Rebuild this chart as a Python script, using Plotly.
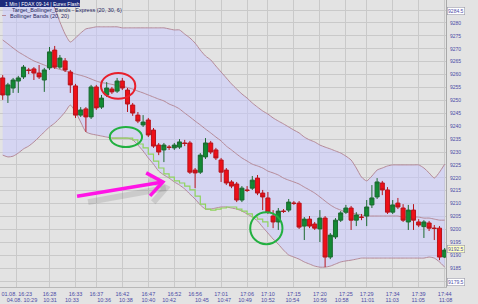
import math
import plotly.graph_objects as go

# ---------------- data ----------------
candle_idx = list(range(86))

open_ = [9258.7, 9252.1, 9254.8, 9257.5, 9259.1, 9261.8, 9262.2, 9260.6, 9257.9, 9262.6,
         9269.5, 9262.9, 9265.3, 9261.0, 9255.6, 9244.3, 9246.7, 9243.6, 9255.2, 9247.4,
         9252.1, 9254.4, 9253.6, 9257.5, 9254.0, 9248.2, 9244.3, 9240.5, 9242.4, 9238.5,
         9232.7, 9230.8, 9231.9, 9231.6, 9231.9, 9233.5, 9233.5, 9223.0, 9222.2, 9228.1,
         9233.5, 9230.8, 9226.9, 9223.0, 9218.4, 9217.6, 9211.4, 9215.3, 9216.0, 9219.9,
         9214.1, 9212.2, 9205.2, 9202.9, 9207.1, 9207.5, 9210.2, 9210.2, 9201.3, 9204.0,
         9202.1, 9200.2, 9204.4, 9189.3, 9197.1, 9203.6, 9206.7, 9208.3, 9203.6, 9204.8,
         9205.2, 9209.5, 9212.6, 9218.0, 9215.3, 9206.7, 9210.2, 9208.3, 9202.9, 9207.5,
         9202.9, 9201.1, 9202.5, 9200.5, 9200.5, 9189.3]
high = [9259.8, 9256.8, 9258.7, 9259.5, 9263.7, 9262.6, 9262.9, 9263.7, 9262.6, 9270.7,
        9271.1, 9267.6, 9266.4, 9261.8, 9256.4, 9247.4, 9247.4, 9256.0, 9256.0, 9252.1,
        9257.1, 9255.2, 9258.7, 9258.7, 9254.8, 9249.0, 9245.5, 9244.3, 9243.2, 9239.3,
        9233.5, 9233.5, 9232.7, 9233.5, 9235.0, 9234.7, 9234.3, 9223.8, 9229.6, 9235.4,
        9234.3, 9231.6, 9227.7, 9223.8, 9219.1, 9218.4, 9216.8, 9216.8, 9220.7, 9221.1,
        9215.3, 9214.5, 9207.5, 9208.3, 9207.9, 9211.8, 9211.0, 9211.0, 9204.8, 9205.2,
        9202.9, 9207.5, 9205.2, 9198.6, 9204.4, 9207.1, 9209.5, 9209.1, 9206.7, 9206.0,
        9211.4, 9217.2, 9219.9, 9218.8, 9216.4, 9211.4, 9212.2, 9209.8, 9209.5, 9209.8,
        9204.0, 9203.6, 9203.3, 9201.7, 9201.3, 9192.8]
low = [9250.2, 9249.0, 9252.9, 9252.9, 9258.3, 9260.2, 9257.9, 9258.3, 9253.3, 9261.8,
       9262.2, 9262.2, 9261.0, 9252.9, 9243.2, 9243.6, 9237.8, 9242.8, 9246.3, 9246.7,
       9251.3, 9252.5, 9252.9, 9254.0, 9245.5, 9244.0, 9241.2, 9239.7, 9235.8, 9231.6,
       9228.8, 9226.1, 9230.8, 9230.8, 9231.2, 9232.3, 9221.5, 9216.0, 9221.5, 9227.3,
       9229.2, 9226.9, 9218.4, 9217.2, 9216.0, 9210.6, 9210.6, 9214.5, 9215.3, 9213.3,
       9207.5, 9206.0, 9200.5, 9199.8, 9206.4, 9206.7, 9209.5, 9200.2, 9195.9, 9200.5,
       9199.8, 9195.1, 9185.4, 9188.5, 9196.3, 9202.9, 9206.0, 9199.8, 9201.3, 9203.6,
       9201.3, 9208.3, 9211.8, 9213.3, 9206.0, 9206.0, 9207.9, 9202.9, 9199.8, 9199.8,
       9200.9, 9196.7, 9199.4, 9195.9, 9188.1, 9188.9]
close = [9252.1, 9256.0, 9257.9, 9258.7, 9262.9, 9261.6, 9260.6, 9259.1, 9261.8, 9268.8,
         9262.9, 9266.4, 9261.8, 9256.0, 9244.3, 9246.3, 9243.6, 9255.2, 9247.1, 9250.9,
         9254.8, 9253.3, 9257.5, 9254.8, 9248.6, 9245.1, 9242.0, 9241.6, 9236.6, 9232.3,
         9230.0, 9232.7, 9231.8, 9232.7, 9233.9, 9233.3, 9222.2, 9221.9, 9228.8, 9233.5,
         9230.0, 9227.7, 9222.2, 9218.0, 9216.8, 9211.4, 9216.0, 9215.1, 9219.1, 9214.1,
         9212.6, 9206.7, 9202.9, 9207.1, 9207.0, 9210.6, 9210.1, 9200.9, 9204.0, 9201.3,
         9200.5, 9204.4, 9189.3, 9197.8, 9203.6, 9206.4, 9208.3, 9203.6, 9205.6, 9204.7,
         9208.7, 9212.2, 9218.4, 9215.3, 9206.7, 9209.5, 9208.7, 9203.6, 9207.5, 9203.6,
         9201.7, 9202.9, 9200.5, 9200.4, 9189.3, 9192.0]

bb_upper = [9294.7, 9294.7, 9294.3, 9294.0, 9293.6, 9293.2, 9292.4, 9291.6, 9290.9, 9289.3,
            9285.8, 9280.4, 9275.7, 9272.6, 9274.2, 9276.1, 9277.7, 9278.1, 9278.5, 9278.5,
            9278.5, 9278.5, 9278.5, 9278.1, 9278.1, 9278.1, 9278.1, 9278.1, 9278.1, 9278.1,
            9278.1, 9278.1, 9277.7, 9277.3, 9277.3, 9275.7, 9274.2, 9272.2, 9269.5, 9267.2,
            9265.7, 9263.3, 9261.0, 9258.7, 9256.4, 9254.4, 9252.5, 9250.9, 9249.0, 9247.4,
            9245.9, 9244.7, 9243.2, 9242.0, 9240.9, 9239.7, 9238.5, 9237.4, 9235.8, 9234.7,
            9233.9, 9232.7, 9231.9, 9231.2, 9230.4, 9229.6, 9228.4, 9226.9, 9223.8, 9220.3,
            9218.8, 9220.7, 9223.0, 9223.8, 9224.6, 9225.0, 9225.0, 9225.0, 9225.0, 9225.0,
            9225.0, 9223.8, 9221.9, 9219.9, 9222.2, 9225.3]
bb_middle = [9273.4, 9271.9, 9270.3, 9268.8, 9267.6, 9266.4, 9265.3, 9264.5, 9263.7, 9262.9,
             9262.6, 9262.0, 9261.4, 9261.0, 9260.2, 9259.7, 9259.1, 9258.3, 9257.5, 9256.9,
             9256.6, 9256.2, 9255.8, 9255.4, 9255.0, 9254.4, 9253.6, 9252.9, 9252.1, 9251.3,
             9250.5, 9249.8, 9248.6, 9247.8, 9246.7, 9245.1, 9243.6, 9242.0, 9240.5, 9238.9,
             9237.4, 9235.8, 9234.3, 9232.3, 9230.8, 9229.2, 9227.7, 9226.5, 9225.3, 9224.6,
             9223.8, 9222.6, 9221.9, 9221.1, 9219.9, 9219.1, 9218.4, 9217.6, 9216.4, 9215.3,
             9214.1, 9212.6, 9211.0, 9209.5, 9208.3, 9207.5, 9206.7, 9206.4, 9206.0, 9205.6,
             9205.2, 9205.2, 9205.2, 9205.2, 9205.2, 9205.2, 9205.2, 9204.8, 9204.8, 9204.8,
             9204.8, 9204.4, 9204.4, 9204.0, 9203.6, 9203.6]
bb_lower = [9228.8, 9228.1, 9228.4, 9229.6, 9231.2, 9232.3, 9233.9, 9235.8, 9237.8, 9239.7,
            9241.2, 9243.2, 9245.5, 9248.2, 9245.5, 9241.6, 9237.8, 9237.0, 9236.6, 9236.2,
            9235.8, 9235.4, 9235.4, 9235.4, 9235.4, 9234.7, 9232.7, 9230.4, 9227.7, 9225.3,
            9222.6, 9221.1, 9219.9, 9218.4, 9217.2, 9215.7, 9213.7, 9211.8, 9209.5, 9207.9,
            9207.9, 9208.3, 9208.7, 9208.7, 9208.3, 9207.9, 9207.1, 9206.0, 9204.8, 9203.3,
            9200.9, 9198.6, 9196.3, 9194.3, 9192.0, 9190.1, 9189.3, 9188.5, 9187.4, 9186.6,
            9185.8, 9185.4, 9185.4, 9185.8, 9186.6, 9187.4, 9187.8, 9188.1, 9188.5, 9188.9,
            9188.9, 9188.9, 9188.9, 9188.9, 9188.9, 9188.9, 9188.9, 9188.9, 9188.9, 9188.9,
            9188.9, 9188.9, 9189.3, 9188.9, 9187.4, 9185.4]

express_idx = [21, 22, 23, 24, 25, 26, 27, 28, 29, 30, 31, 32, 33, 34, 35, 36,
               37, 38, 39, 40, 41, 42, 43, 44, 45, 46, 47, 48, 49, 50, 51]
express_val = [9235.4, 9235.4, 9235.4, 9235.4, 9234.7, 9233.1, 9231.6, 9229.2, 9226.5,
               9223.8, 9221.5, 9220.3, 9218.8, 9218.0, 9216.8, 9215.3, 9212.9, 9209.8,
               9207.9, 9207.5, 9207.9, 9208.3, 9208.7, 9208.7, 9207.9, 9207.1, 9206.0,
               9204.8, 9204.0, 9202.9, 9200.9]

top_tick_pos = [2.7, 9, 14, 18, 23, 28, 33, 37, 42, 47, 51, 56, 61, 66, 70, 75, 80, 85]
top_tick_text = ["01.08. 16:23", "16:28", "16:33", "16:37", "16:42", "16:47", "16:52",
                 "16:56", "17:01", "17:06", "17:10", "17:15", "17:20", "17:25", "17:29",
                 "17:34", "17:39", "17:44"]
bottom_tick_pos = [3.7, 9.1, 13.3, 19.5, 23.7, 28, 32, 38.3, 42.6, 46.6, 51, 55.7, 61,
                   65.2, 70.2, 74.9, 79.9, 85.2]
bottom_tick_text = ["04.08. 10:29", "10:31", "10:33", "10:36", "10:38", "10:40", "10:42",
                    "10:45", "10:47", "10:49", "10:52", "10:54", "10:56", "10:58", "11:01",
                    "11:03", "11:05", "11:08"]
grid_prices = [9180, 9185, 9190, 9195, 9200, 9205, 9210, 9215, 9220, 9225, 9230, 9235,
               9240, 9245, 9250, 9255, 9260, 9265, 9270, 9275, 9280, 9285]
price_tick_text = ["", "9185", "9190", "9195", "9200", "9205", "9210", "9215", "9220",
                   "9225", "9230", "9235", "9240", "9245", "9250", "9255", "9260", "9265",
                   "9270", "9275", "9280", ""]

badge_values = [9284.5, 9192.5, 9179.5]
badge_labels = ["9284.5", "9192.5", "9179.5"]

# highlight ellipses: (x centre, y centre, x half-width, y half-height)
red_circle = (22.2, 9255.6, 3.3, 5.0)
green_circles = [(23.7, 9235.8, 3.1, 3.9), (50.7, 9200.5, 3.1, 6.2)]
arrow_tail = (14.3, 9212.9)
arrow_head = (30.8, 9218.4)

# ---------------- style ----------------
X_RANGE = [-0.52, 85.25]
Y_RANGE = [9177.7, 9288.9]
BG = "#e3e3e3"
GRID = "#c9c9c9"
BAND_LINE = "#b58a98"
LABEL = "#4b4ba6"
FONT = "Liberation Sans, Arial, sans-serif"
W, H = 478, 304
M = dict(l=0, r=32, t=0, b=17)
PX_X = (W - M["l"] - M["r"]) / (X_RANGE[1] - X_RANGE[0])
PX_Y = (H - M["t"] - M["b"]) / (Y_RANGE[1] - Y_RANGE[0])

fig = go.Figure()

fig.add_trace(go.Scatter(x=candle_idx, y=bb_upper, mode="lines",
                         line=dict(color=BAND_LINE, width=1, shape="spline", smoothing=0.6),
                         hoverinfo="skip", showlegend=False))
fig.add_trace(go.Scatter(x=candle_idx, y=bb_lower, mode="lines",
                         line=dict(color=BAND_LINE, width=1, shape="spline", smoothing=0.6),
                         fill="tonexty", fillcolor="rgba(200,200,255,0.52)",
                         hoverinfo="skip", showlegend=False))
fig.add_trace(go.Scatter(x=candle_idx, y=bb_middle, mode="lines",
                         line=dict(color=BAND_LINE, width=1, shape="spline", smoothing=0.6),
                         hoverinfo="skip", showlegend=False))
fig.add_trace(go.Scatter(x=express_idx, y=express_val, mode="lines",
                         line=dict(color="#8fd45e", width=1.2, shape="hv"),
                         hoverinfo="skip", showlegend=False))


def arrow_pts(tail, head, length_px, angle_deg):
    dx = (head[0] - tail[0]) * PX_X
    dy = (head[1] - tail[1]) * PX_Y
    n = math.hypot(dx, dy)
    bx, by = -dx / n, -dy / n
    pts = []
    for s in (1, -1):
        a = math.radians(angle_deg) * s
        rx = bx * math.cos(a) - by * math.sin(a)
        ry = bx * math.sin(a) + by * math.cos(a)
        pts.append((head[0] + rx * length_px / PX_X, head[1] + ry * length_px / PX_Y))
    return pts


def add_arrow(tail, head, color, width):
    w1, w2 = arrow_pts(tail, head, 19, 38)
    fig.add_trace(go.Scatter(x=[tail[0], head[0], None, w1[0], head[0], w2[0]],
                             y=[tail[1], head[1], None, w1[1], head[1], w2[1]],
                             mode="lines", line=dict(color=color, width=width),
                             hoverinfo="skip", showlegend=False))


shadow_dx, shadow_dy = 3 / PX_X, -6 / PX_Y
add_arrow((arrow_tail[0] + 8 / PX_X + shadow_dx, arrow_tail[1] + shadow_dy),
          (arrow_head[0] + shadow_dx, arrow_head[1] + shadow_dy), "rgba(80,80,80,0.16)", 6)
add_arrow(arrow_tail, arrow_head, "#ff14e6", 3.5)

# candles on an overlaying axis pair so they are painted above the band fill
fig.add_trace(go.Candlestick(
    x=candle_idx, open=open_, high=high, low=low, close=close, xaxis="x3", yaxis="y2",
    increasing=dict(fillcolor="#128a34", line=dict(color="#1c6a30", width=1)),
    decreasing=dict(fillcolor="#ee0f18", line=dict(color="#b8141c", width=1)),
    whiskerwidth=0, hoverinfo="skip", showlegend=False))

# invisible trace to carry the second time axis
fig.add_trace(go.Scatter(x=[candle_idx[0]], y=[close[0]], xaxis="x2", mode="markers",
                         marker=dict(opacity=0), hoverinfo="skip", showlegend=False))

shapes = []
cx, cy, rx, ry = red_circle
shapes.append(dict(type="circle", xref="x", yref="y", x0=cx - rx, x1=cx + rx, y0=cy - ry,
                   y1=cy + ry, line=dict(color="#e8202c", width=2)))
for cx, cy, rx, ry in green_circles:
    shapes.append(dict(type="circle", xref="x", yref="y", x0=cx - rx, x1=cx + rx,
                       y0=cy - ry, y1=cy + ry, line=dict(color="#22b040", width=2)))
# header tab
plot_w = W - M["l"] - M["r"]
plot_h = H - M["t"] - M["b"]
shapes.append(dict(type="rect", xref="paper", yref="paper", x0=0, x1=80 / plot_w,
                   y0=1 - 7 / plot_h, y1=1, fillcolor="#1d2b7c", line=dict(width=0),
                   layer="above"))
shapes.append(dict(type="line", xref="paper", yref="paper", x0=2 / plot_w, x1=6 / plot_w,
                   y0=1 - 15.5 / plot_h, y1=1 - 15.5 / plot_h,
                   line=dict(color=BAND_LINE, width=1)))

annotations = [
    dict(xref="paper", yref="paper", x=3 / plot_w, y=1 - 3.5 / plot_h, xanchor="left",
         yanchor="middle", text="1 Min | FDAX 09-14 | Eurex Flash", showarrow=False,
         font=dict(size=5, color="white", family=FONT)),
    dict(xref="paper", yref="paper", x=10 / plot_w, y=1 - 10 / plot_h, xanchor="left",
         yanchor="middle", text="Target_Bollinger_Bands - Express (20, 30, 6)",
         showarrow=False, font=dict(size=5.5, color="#26265e", family=FONT)),
    dict(xref="paper", yref="paper", x=8 / plot_w, y=1 - 15.5 / plot_h, xanchor="left",
         yanchor="middle", text="Bollinger Bands (20, 20)", showarrow=False,
         font=dict(size=5.5, color="#26265e", family=FONT)),
]
badge_bg = ["#ffffff", "#ffffc4", "#ffffff"]
for v, t, bg in zip(badge_values, badge_labels, badge_bg):
    annotations.append(dict(xref="paper", yref="y", x=1 + 1 / plot_w, y=v, xanchor="left",
                            yanchor="middle", text=t, showarrow=False, bgcolor=bg,
                            bordercolor="#9a9aa8", borderwidth=0.6, borderpad=0.5,
                            font=dict(size=5, color=LABEL, family=FONT)))

fig.update_layout(
    width=W, height=H, margin=M, paper_bgcolor=BG, plot_bgcolor=BG,
    showlegend=False, hovermode=False, shapes=shapes, annotations=annotations,
    boxgap=0.22, boxgroupgap=0,
    xaxis=dict(range=X_RANGE, tickvals=top_tick_pos, ticktext=top_tick_text,
               showgrid=True, gridcolor=GRID, gridwidth=1, zeroline=False,
               showline=True, linecolor="#b8b8b8", ticks="", ticklabelstandoff=1,
               tickfont=dict(size=5.5, color=LABEL, family=FONT),
               rangeslider=dict(visible=False), fixedrange=True),
    xaxis2=dict(range=X_RANGE, overlaying="x", side="bottom", anchor="y",
                tickvals=bottom_tick_pos, ticktext=bottom_tick_text, showgrid=False,
                zeroline=False, showline=False, ticks="", ticklabelstandoff=8,
                tickfont=dict(size=5.5, color=LABEL, family=FONT)),
    xaxis3=dict(range=X_RANGE, overlaying="x", anchor="y2", visible=False,
                showgrid=False, zeroline=False, rangeslider=dict(visible=False)),
    yaxis=dict(range=Y_RANGE, side="right", tickvals=grid_prices, ticktext=price_tick_text,
               showgrid=True, gridcolor=GRID, gridwidth=1, zeroline=False,
               showline=True, linecolor="#a8a8a8", ticks="", ticklabelstandoff=2,
               tickfont=dict(size=5, color=LABEL, family=FONT)),
    yaxis2=dict(range=Y_RANGE, overlaying="y", anchor="x3", visible=False,
                showgrid=False, zeroline=False),
)

fig.write_html("out.html")
